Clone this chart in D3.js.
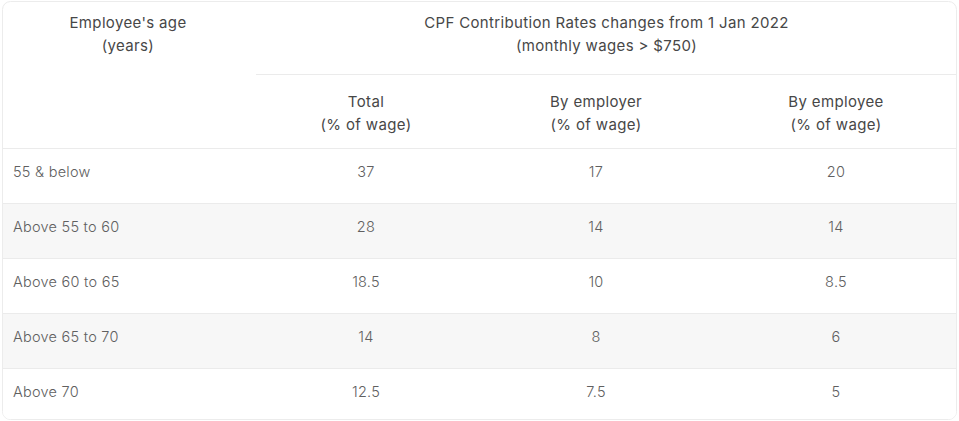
<!DOCTYPE html>
<html><head><meta charset="utf-8">
<script src="https://cdn.jsdelivr.net/npm/d3@7"></script>
<style>
html,body{margin:0;padding:0;background:#fff;}
svg{display:block;font-family:Inter,"Open Sans",sans-serif;}
</style></head>
<body><svg id="c" width="959" height="421"></svg>
<script>
const ageGroups = ["55 & below","Above 55 to 60","Above 60 to 65","Above 65 to 70","Above 70"];
const totalRates = ["37","28","18.5","14","12.5"];
const employerRates = ["17","14","10","8","7.5"];
const employeeRates = ["20","14","8.5","6","5"];
const colHeaders = [["Total","(% of wage)"],["By employer","(% of wage)"],["By employee","(% of wage)"]];
const groupHeader = ["CPF Contribution Rates changes from 1 Jan 2022","(monthly wages > $750)"];
const ageHeader = ["Employee's age","(years)"];

(function(){
const svg=d3.select("#c");
const L=2,R=957,T=1,B=420,firstCol=256;
const y=d3.scaleBand().domain(ageGroups).range([148,423]);
const cols=["total","employer","employee"];
const x=d3.scaleOrdinal().domain(cols).range([366,596,836]);
const series={total:totalRates,employer:employerRates,employee:employeeRates};

svg.append("rect").attr("x",L+0.5).attr("y",T+0.5).attr("width",R-L-1).attr("height",B-T-1)
  .attr("rx",8).attr("fill","#fff").attr("stroke","#ececec");

const clip=svg.append("defs").append("clipPath").attr("id","cl");
clip.append("rect").attr("x",L+1).attr("y",T+1).attr("width",R-L-2).attr("height",B-T-2).attr("rx",7);
const g=svg.append("g").attr("clip-path","url(#cl)");

g.selectAll("rect.row").data(ageGroups).join("rect").attr("class","row")
  .attr("x",L).attr("width",R-L).attr("y",d=>y(d)).attr("height",y.bandwidth())
  .attr("fill",(d,i)=>i%2?"#f7f7f7":"#fff");
g.selectAll("line.rl").data(ageGroups).join("line").attr("class","rl")
  .attr("x1",L).attr("x2",R).attr("y1",d=>Math.round(y(d))+0.5).attr("y2",d=>Math.round(y(d))+0.5)
  .attr("stroke","#ebebeb");
g.append("line").attr("x1",firstCol).attr("x2",R).attr("y1",74.5).attr("y2",74.5).attr("stroke","#ebebeb");

const hdrColor="#474747", bodyColor="#606060";
function twoLine(cx,cy1,lines){
  lines.forEach((t,i)=>svg.append("text").attr("x",cx).attr("y",cy1+i*23).attr("text-anchor","middle")
    .attr("dominant-baseline","central").attr("font-size",15).attr("letter-spacing",0.35)
    .attr("font-weight",400).attr("fill",hdrColor).text(t));
}
twoLine(firstCol/2,22,ageHeader);
twoLine((firstCol+R)/2,22,groupHeader);
cols.forEach((c,i)=>twoLine(x(c),101,colHeaders[i]));

svg.selectAll("text.age").data(ageGroups).join("text").attr("class","age")
  .attr("x",13).attr("y",d=>y(d)+23).attr("dominant-baseline","central")
  .attr("font-size",14.5).attr("letter-spacing",0.25).attr("font-weight",300).attr("fill",bodyColor).text(d=>d);
cols.forEach(c=>{
  svg.selectAll("text.v"+c).data(series[c]).join("text").attr("class","v"+c)
    .attr("x",x(c)).attr("y",(d,i)=>y(ageGroups[i])+23).attr("text-anchor","middle").attr("dominant-baseline","central")
    .attr("font-size",14.5).attr("letter-spacing",0.25).attr("font-weight",300).attr("fill",bodyColor).text(d=>d);
});
})();
</script></body></html>
